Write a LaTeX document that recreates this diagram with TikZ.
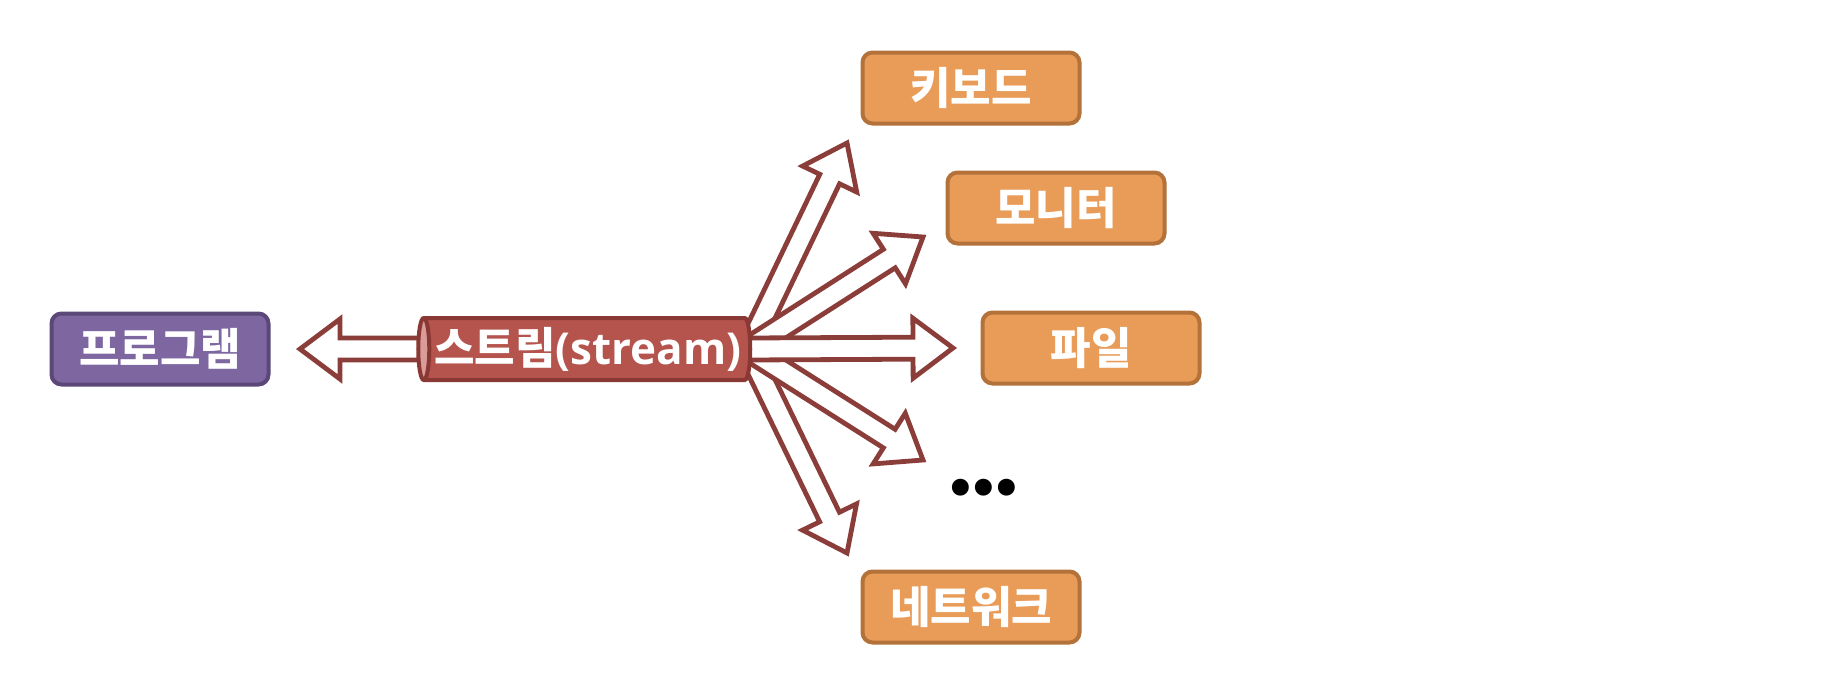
\documentclass[tikz,border=0pt]{standalone}
\usepackage{fontspec}
\newfontfamily\kr{Noto Sans CJK KR}
\newfontfamily\latin{Open Sans}
\newfontfamily\dotfont{DejaVu Sans}
\usetikzlibrary{calc,shapes.geometric}

\definecolor{progfill}{HTML}{7E66A0}
\definecolor{progdraw}{HTML}{5B4879}
\definecolor{streamfill}{HTML}{B5534D}
\definecolor{streamend}{HTML}{D99C98}
\definecolor{streamdraw}{HTML}{8A3834}
\definecolor{devfill}{HTML}{E99B58}
\definecolor{devdraw}{HTML}{B2723A}
\definecolor{arrdraw}{HTML}{8B3D3A}

\tikzset{
    box/.style={rounded corners=5pt, line width=2pt, text=white,
        font=\kr\bfseries\fontsize{22}{22}\selectfont,
        minimum width=108.5pt, minimum height=35.5pt, inner sep=0pt},
    progbox/.style={box, draw=progdraw, fill=progfill},
    devbox/.style={box, draw=devdraw, fill=devfill},
    streambox/.style={cylinder, shape border rotate=180, aspect=0.25,
        cylinder uses custom fill, cylinder body fill=streamfill,
        cylinder end fill=streamend, draw=streamdraw, line width=2pt,
        minimum height=166pt, minimum width=31pt, inner sep=0pt, text=white,
        font=\kr\bfseries\fontsize{22}{22}\selectfont},
    fatarr/.style={draw=arrdraw, fill=white, line width=2.4pt, line join=miter},
}

\begin{document}
\begin{tikzpicture}[x=0.5pt, y=-0.5pt]

% Parameters
\def\bodyw{5.5pt}   % half width of arrow body
\def\headw{15pt}    % half width of arrow head
\def\headlen{20pt}  % length of arrow head

\useasboundingbox (0,0) rectangle (1826,680);

% Devices
\node[devbox] (keyboard) at (971,88) {키보드};
\node[devbox] (monitor) at (1056,208) {모니터};
\node[devbox] (file) at (1091,348) {파일};
\node[font=\dotfont\bfseries\fontsize{24}{24}\selectfont] (more) at (984,492)
    {•\kern-4pt•\kern-4pt•};
\node[devbox] (network) at (971,607) {네트워크};

% Program
\node[progbox] (program) at (160,349) {프로그램};

% Arrow ends
\coordinate (src) at (748,349);
\coordinate (t1) at (847,143);
\coordinate (t2) at (923,237);
\coordinate (t3) at (953,348);
\coordinate (t4) at (923,460);
\coordinate (t5) at (847,553);
\coordinate (lsrc) at (440,349);
\coordinate (ltip) at (300,349);

% Hollow arrows out of the stream
\foreach \t in {t1,t5,t2,t4,t3} {
    \coordinate (h) at ($(\t)!\headlen!(src)$);
    \draw[fatarr] ($(src)!\bodyw!90:(\t)$) -- ($(h)!\bodyw!90:(\t)$)
        -- ($(h)!\headw!90:(\t)$) -- (\t) -- ($(h)!\headw!-90:(\t)$)
        -- ($(h)!\bodyw!-90:(\t)$) -- ($(src)!\bodyw!-90:(\t)$) -- cycle;
}

% Arrow back to the program
\coordinate (h) at ($(ltip)!\headlen!(lsrc)$);
\draw[fatarr] ($(lsrc)!\bodyw!90:(ltip)$) -- ($(h)!\bodyw!90:(ltip)$)
    -- ($(h)!\headw!90:(ltip)$) -- (ltip) -- ($(h)!\headw!-90:(ltip)$)
    -- ($(h)!\bodyw!-90:(ltip)$) -- ($(lsrc)!\bodyw!-90:(ltip)$) -- cycle;

% Stream
\node[streambox] (stream) at (588,349) {스트림{\latin\bfseries (stream)}};

\end{tikzpicture}
\end{document}
